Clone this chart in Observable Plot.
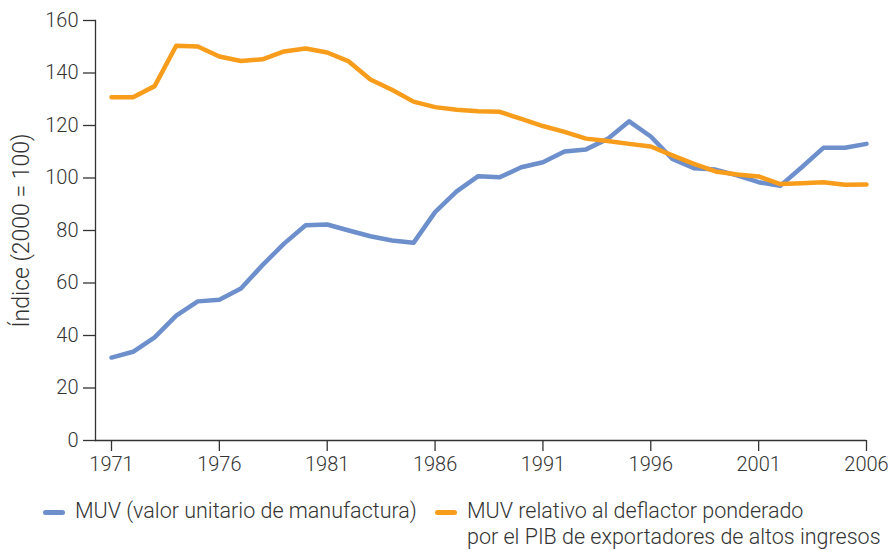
<!DOCTYPE html>
<html>
<head>
<meta charset="utf-8">
<script src="https://cdn.jsdelivr.net/npm/d3@7"></script>
<script src="https://cdn.jsdelivr.net/npm/@observablehq/plot@0.6"></script>
<style>
  body { margin: 0; background: #fff; font-family: Roboto, "Liberation Sans", sans-serif; font-weight: 300; color: #333; }
  #chart { position: relative; width: 894px; height: 550px; }
  .legend { position: absolute; top: 498px; left: 0; width: 894px; font-size: 21.5px; color: #333; line-height: 26px; }
  .item { position: absolute; display: flex; align-items: flex-start; }
  .sw { width: 22px; height: 5px; border-radius: 2.5px; margin-top: 12px; margin-right: 10px; flex: none; }
</style>
</head>
<body>
<div id="chart"></div>
<script>
const years = d3.range(1971, 2007);
const seriesNames = [
  "MUV (valor unitario de manufactura)",
  "MUV relativo al deflactor ponderado por el PIB de exportadores de altos ingresos"
];
const muv = [31.6, 33.8, 39.3, 47.6, 53.0, 53.6, 57.9, 66.8, 75.0, 82.0, 82.3,
  80.0, 77.8, 76.2, 75.3, 87.0, 94.9, 100.7, 100.3, 104.1, 106.0,
  110.1, 110.9, 114.9, 121.6, 115.8, 107.3, 103.7, 103.2, 101.0, 98.4,
  97.0, 104.1, 111.5, 111.5, 113.0];
const muvRelative = [130.8, 130.8, 135.0, 150.4, 150.1, 146.3, 144.6, 145.2, 148.2, 149.3, 147.8,
  144.4, 137.5, 133.6, 129.1, 127.0, 126.0, 125.4, 125.2, 122.5, 119.8,
  117.6, 115.0, 114.1, 113.0, 112.0, 108.6, 105.4, 102.5, 101.3, 100.6,
  97.7, 98.0, 98.4, 97.4, 97.5];
const colors = ["#6d8fcc", "#f89c1c"];
const xTicks = [1971, 1976, 1981, 1986, 1991, 1996, 2001, 2006];
const yTicks = [0, 20, 40, 60, 80, 100, 120, 140, 160];

const rows = [];
years.forEach((yr, i) => {
  rows.push({year: yr, value: muv[i], series: seriesNames[0]});
  rows.push({year: yr, value: muvRelative[i], series: seriesNames[1]});
});

const plot = Plot.plot({
  width: 894,
  height: 480,
  marginTop: 20,
  marginBottom: 40,
  marginLeft: 95,
  marginRight: 28,
  style: {fontFamily: "Roboto, 'Liberation Sans', sans-serif", fontSize: "20px", fontWeight: 300, color: "#333", background: "transparent"},
  x: {domain: [1971, 2006], insetLeft: 16},
  y: {domain: [0, 160]},
  color: {domain: seriesNames, range: colors},
  marks: [
    Plot.frame({anchor: "left", stroke: "#333", strokeWidth: 1.3}),
    Plot.ruleY([0], {stroke: "#333", strokeWidth: 1.3}),
    Plot.axisX({ticks: xTicks, tickFormat: d => String(d), tickSize: 11, tickPadding: 5, stroke: "#333", strokeWidth: 1.3, fill: "#333", fontSize: 20, label: null}),
    Plot.axisY({ticks: yTicks, tickSize: 12, tickPadding: 5, stroke: "#333", strokeWidth: 1.3, fill: "#333", fontSize: 20, label: null}),
    Plot.line(rows, {x: "year", y: "value", z: "series", stroke: "series", strokeWidth: 4.5, strokeLinejoin: "round"}),
    Plot.text(["Índice (2000 = 100)"], {frameAnchor: "left", dx: -74, rotate: -90, textAnchor: "middle", fontSize: 23, fill: "#333", text: d => d})
  ]
});
document.getElementById("chart").appendChild(plot);

const legend = document.createElement("div");
legend.className = "legend";
const pos = [{left: 43}, {left: 435}];
const labels = [
  [seriesNames[0]],
  ["MUV relativo al deflactor ponderado", "por el PIB de exportadores de altos ingresos"]
];
seriesNames.forEach((s, i) => {
  const it = document.createElement("div");
  it.className = "item";
  it.style.left = pos[i].left + "px";
  const sw = document.createElement("div");
  sw.className = "sw";
  sw.style.background = colors[i];
  const tx = document.createElement("div");
  tx.style.whiteSpace = "nowrap";
  tx.innerHTML = labels[i].join("<br>");
  it.appendChild(sw);
  it.appendChild(tx);
  legend.appendChild(it);
});
document.getElementById("chart").appendChild(legend);
</script>
</body>
</html>
